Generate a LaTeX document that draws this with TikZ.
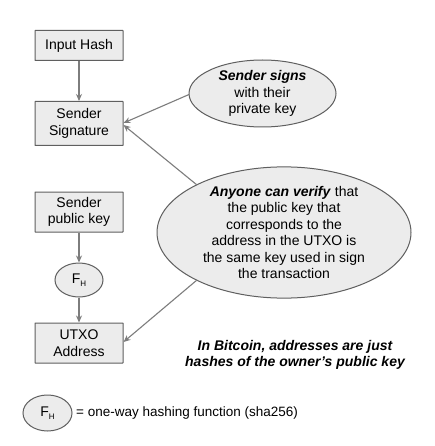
\documentclass[tikz,border=0pt]{standalone}
\usepackage{fontspec}
\setmainfont{Liberation Sans}
\usetikzlibrary{arrows.meta,shapes.geometric}
\definecolor{cfill}{RGB}{236,236,236}
\definecolor{cline}{RGB}{95,95,95}
\definecolor{carrow}{RGB}{125,125,125}
\tikzset{
  procbox/.style={rectangle, rounded corners=0.4pt, draw=cline, fill=cfill, line width=1pt, minimum width=88pt, inner sep=0pt, align=center, font=\fontsize{14}{16.5}\selectfont},
  ovalnode/.style={ellipse, draw=cline, fill=cfill, line width=1pt, inner sep=0pt, align=center, font=\fontsize{14}{16.5}\selectfont},
  conn/.style={draw=carrow, line width=1.1pt, -{Stealth[length=7pt,width=6pt]}},
}
\newcommand{\FH}{F\raisebox{-0.45ex}{\fontsize{8}{8}\selectfont H}}
\begin{document}
\begin{tikzpicture}
\fill[white] (0pt,0pt) -- (434pt,0pt) -- (434pt,-446pt) -- (0pt,-446pt) -- cycle;
\path[use as bounding box] (0pt,0pt) -- (434pt,0pt) -- (434pt,-446pt) -- (0pt,-446pt) -- cycle;
\node[procbox, minimum height=30pt] (ih) at (79pt,-45.5pt) {Input Hash};
\node[procbox, minimum height=44pt] (ss) at (79pt,-123.5pt) {Sender\\Signature};
\node[procbox, minimum height=40pt] (pk) at (79pt,-212pt) {Sender\\public key};
\node[ovalnode, minimum width=48pt, minimum height=34pt] (fh) at (79pt,-280pt) {\FH};
\node[procbox, minimum height=40pt] (ua) at (79pt,-343pt) {UTXO\\Address};
\node[ovalnode, minimum width=147pt, minimum height=67pt] (sg) at (262.5pt,-93.5pt) {\textbf{\textit{Sender signs}}\\with their\\private key};
\node[ovalnode, minimum width=254pt, minimum height=129pt] (av) at (284pt,-232.5pt) {\textbf{\textit{Anyone can verify}} that\\the public key that\\corresponds to the\\address in the UTXO is\\the same key used in sign\\the transaction};
\node[font=\fontsize{14}{16.5}\selectfont\bfseries\itshape, align=center] (note) at (295pt,-355pt) {In Bitcoin, addresses are just\\hashes of the owner’s public key};
\node[ovalnode, minimum width=49pt, minimum height=36pt] (lfh) at (47.5pt,-413pt) {\FH};
\node[anchor=west, font=\fontsize{13.5}{16}\selectfont, inner sep=0pt] (leg) at (76pt,-413pt) {= one-way hashing function (sha256)};
\coordinate (sgA) at (189pt,-94.5pt);
\coordinate (avA) at (197pt,-185pt);
\coordinate (avB) at (197pt,-280pt);
\draw[conn] (ih) -- (ss);
\draw[conn] (pk) -- (fh);
\draw[conn] (fh) -- (ua);
\draw[conn] (sgA) -- (ss.east |- 0pt,-123pt);
\draw[conn] (avA) -- (ss.east |- 0pt,-125pt);
\draw[conn] (avB) -- (ua.east |- 0pt,-342pt);
\end{tikzpicture}
\end{document}
